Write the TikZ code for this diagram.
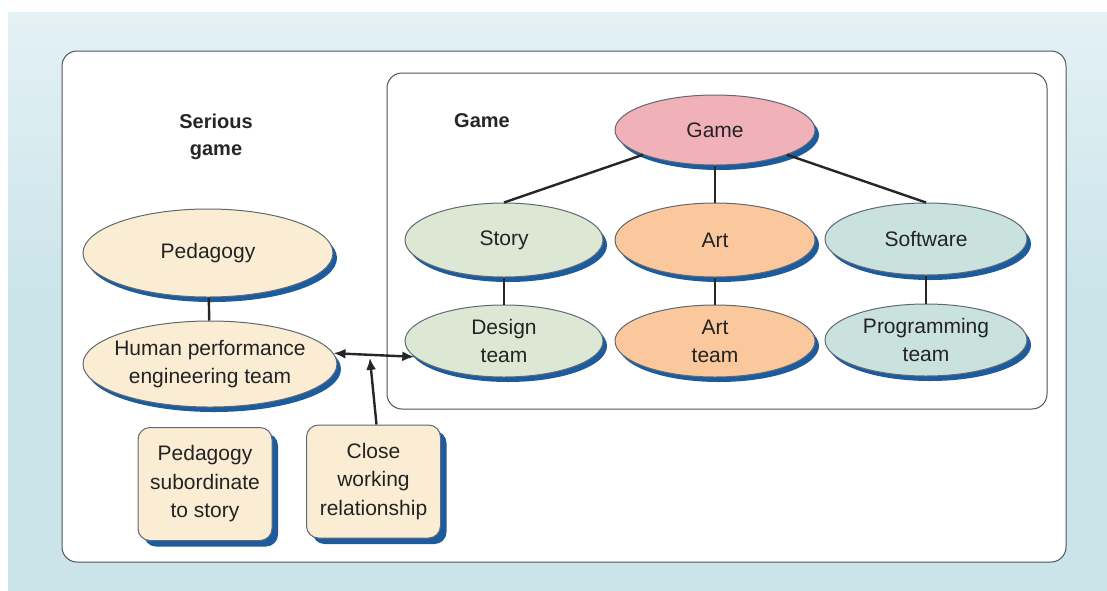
\documentclass[tikz,border=0pt]{standalone}
\usepackage{fontspec}
\setmainfont{Liberation Sans}
\usetikzlibrary{shadows,arrows.meta,calc,shapes.geometric}
\definecolor{bgblue}{RGB}{202,228,233}
\definecolor{bgtop}{RGB}{228,241,245}
\definecolor{shblue}{RGB}{28,92,158}
\definecolor{cream}{RGB}{251,236,212}
\definecolor{pinkfill}{RGB}{240,178,184}
\definecolor{greenfill}{RGB}{220,232,211}
\definecolor{orangefill}{RGB}{250,200,156}
\definecolor{tealfill}{RGB}{202,226,221}
\definecolor{edge}{RGB}{95,105,115}
\definecolor{txt}{RGB}{35,35,35}
\tikzset{
  mytip/.tip={Latex[length=12pt,width=10pt]},
  ell/.style={ellipse, draw=edge, line width=1pt, inner sep=0pt, align=center,
    text=txt, font=\fontsize{21}{28}\selectfont,
    drop shadow={shadow xshift=4pt, shadow yshift=-5pt, fill=shblue, opacity=1}},
  notebox/.style={rectangle, rounded corners=12pt, draw=edge, line width=1pt, fill=cream,
    inner sep=0pt, align=center, text=txt, font=\fontsize{21}{28.5}\selectfont,
    minimum width=134pt, minimum height=113pt,
    drop shadow={shadow xshift=6pt, shadow yshift=-6pt, fill=shblue, opacity=1}},
  conn/.style={line width=2.4pt, black!85},
  arr/.style={line width=2.4pt, black!85},
  ttl/.style={font=\bfseries\fontsize{20}{27}\selectfont, text=black!85, align=center, inner sep=0pt},
}
\begin{document}
\begin{tikzpicture}[x=1pt,y=-1pt]
\useasboundingbox (0,0) rectangle (1107,590);
\fill[white] (0,0) rectangle (1107,590);
\shade[top color=bgtop, bottom color=bgblue, middle color=bgblue] (8,12) rectangle (1107,590);
% outer panel
\draw[fill=white, draw=edge!80!black, line width=1pt, rounded corners=15pt] (62,51) rectangle (1066,562);
% inner panel
\draw[fill=white, draw=edge!80!black, line width=1pt, rounded corners=15pt] (387,73) rectangle (1047,409);

\node[ttl] (sglabel) at (216,137) {Serious\\game};
\node[ttl] (glabel) at (482,121) {Game};

\node[ell, fill=cream, minimum width=250pt, minimum height=88pt] (ped) at (208,253) {Pedagogy};
\node[ell, fill=cream, minimum width=254pt, minimum height=86pt, inner xsep=-8pt] (hpe) at (210,364) {Human performance\\engineering team};

\node[ell, fill=pinkfill, minimum width=200pt, minimum height=70pt] (game) at (715,130) {Game};
\node[ell, fill=greenfill, minimum width=198pt, minimum height=74pt] (story) at (504,240) {Story};
\node[ell, fill=orangefill, minimum width=200pt, minimum height=74pt] (art) at (715,240) {Art};
\node[ell, fill=tealfill, minimum width=202pt, minimum height=72pt] (soft) at (926,239) {Software};
\node[ell, fill=greenfill, minimum width=198pt, minimum height=72pt] (design) at (504,341) {Design\\team};
\node[ell, fill=orangefill, minimum width=200pt, minimum height=72pt] (artteam) at (715,341) {Art\\team};
\node[ell, fill=tealfill, minimum width=202pt, minimum height=72pt] (prog) at (926,340) {Programming\\team};

\node[notebox] (sub) at (205,484) {Pedagogy\\subordinate\\to story};
\node[notebox] (close) at (373.5,481.5) {Close\\working\\relationship};

% connectors
\draw[conn] (ped) -- (hpe);
\draw[conn] (game) -- (story.north);
\draw[conn] (game) -- (art);
\draw[conn] (game) -- (soft.north);
\draw[conn] (story) -- (design);
\draw[conn] (art) -- (artteam);
\draw[conn] (soft) -- (prog);

\draw[arr, mytip-mytip] (hpe.5) -- (design.190);
\coordinate (meet) at ($(hpe.5)!0.45!(design.190)$);
\coordinate (closetop) at ([xshift=3pt]close.north);
\draw[arr, -mytip] (closetop) -- ([yshift=-3pt]meet);
\end{tikzpicture}
\end{document}
